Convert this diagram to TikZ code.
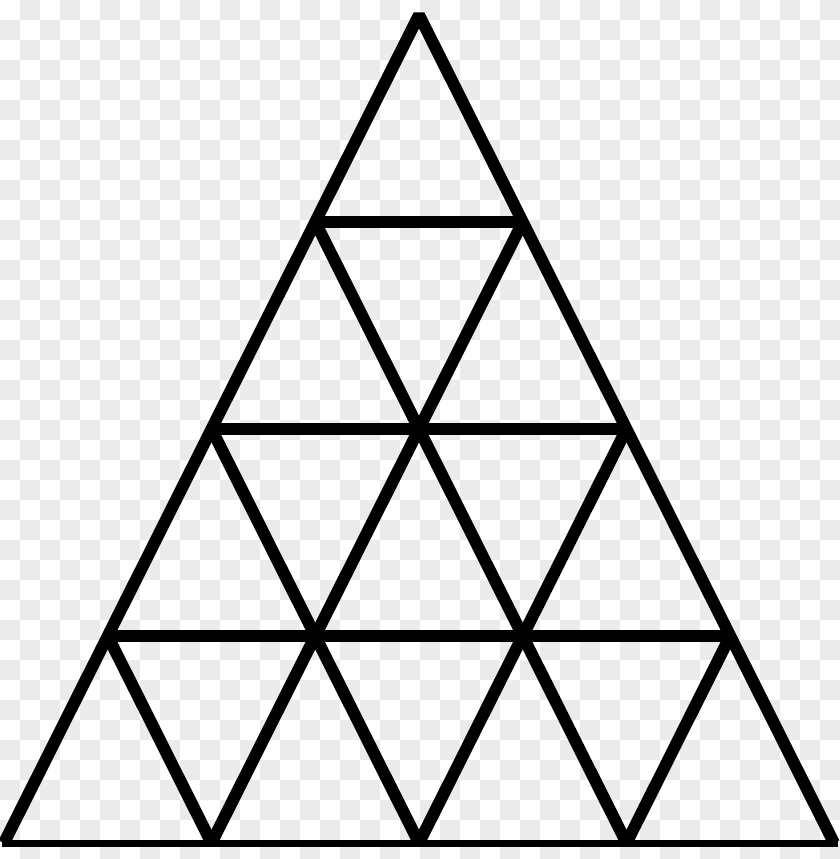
\documentclass[tikz,border=0pt]{standalone}
\definecolor{checker}{RGB}{235,235,235}
\begin{document}
\begin{tikzpicture}[x=1pt,y=-1pt,
  edge/.style={line width=12pt,black},
  baseline edge/.style={line width=7pt,black},
  tile/.style={fill=checker,draw=none}]
\useasboundingbox (0,0) rectangle (840,859);
\fill[white] (0,0) rectangle (840,859);
\begin{scope}
\clip (0,0) rectangle (840,859);
\foreach \j in {0,2,...,42}{\foreach \i in {1,3,...,41}{%
  \path[tile] (20*\i,20*\j) rectangle ++(20,20);}}
\foreach \j in {1,3,...,41}{\foreach \i in {0,2,...,40}{%
  \path[tile] (20*\i,20*\j) rectangle ++(20,20);}}
\end{scope}
% lattice vertices
\foreach \r in {0,...,4}{\foreach \j in {0,...,\r}{%
  \coordinate (p\r\j) at ({419+(\j-\r/2)*207.5},{15+207*\r});}}
\begin{scope}
\clip (0,0) rectangle (840,859);
% horizontal lines
\draw[edge] (p10) -- (p11);
\draw[edge] (p20) -- (p22);
\draw[edge] (p30) -- (p33);
\draw[baseline edge] ([xshift=-2pt]p40) -- ([xshift=4pt]p44);
% lines parallel to the left side
\draw[edge] (p11) -- (p41);
\draw[edge] (p22) -- (p42);
\draw[edge] (p33) -- (p43);
% lines parallel to the right side
\draw[edge] (p10) -- (p43);
\draw[edge] (p20) -- (p42);
\draw[edge] (p30) -- (p41);
% outer sides
\draw[edge,line join=bevel] (p40) -- (p00) -- (p44);
\end{scope}
\end{tikzpicture}
\end{document}
